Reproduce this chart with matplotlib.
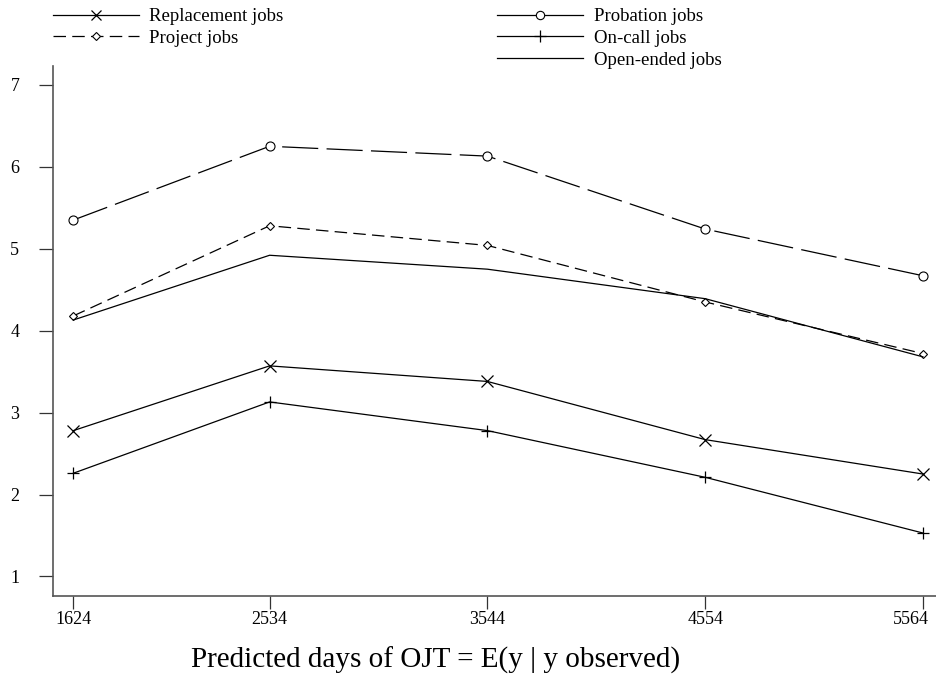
import matplotlib
matplotlib.use("Agg")
import matplotlib.pyplot as plt
import matplotlib.transforms as mtransforms
from matplotlib.lines import Line2D

plt.rcParams['font.family'] = ['Liberation Serif', 'DejaVu Serif']
plt.rcParams['lines.scale_dashes'] = False

# predicted days of OJT at the five x positions
days = [1624, 2534, 3544, 4554, 5564]

replacement = [2.78, 3.57, 3.38, 2.67, 2.25]
probation = [5.35, 6.25, 6.13, 5.24, 4.67]
project = [4.18, 5.28, 5.04, 4.35, 3.72]
on_call = [2.26, 3.13, 2.78, 2.21, 1.53]
open_ended = [4.13, 4.92, 4.75, 4.39, 3.68]

y_ticks = [1, 2, 3, 4, 5, 6, 7]

fig = plt.figure(figsize=(9.37, 6.83), dpi=100)
ax = fig.add_axes([0.0562, 0.1278, 0.9438, 0.7756])

lw = 0.9
ax.plot(days, probation, color='black', lw=lw, marker='o', ms=6.5,
        mfc='white', mec='black', mew=0.8, dashes=(26, 6))
ax.plot(days, project, color='black', lw=lw, marker='D', ms=4.5,
        mfc='white', mec='black', mew=0.8, dashes=(9, 4.5))
ax.plot(days, open_ended, color='black', lw=lw)
ax.plot(days, replacement, color='black', lw=lw, marker='x', ms=8, mew=0.9)
ax.plot(days, on_call, color='black', lw=lw, marker='+', ms=9, mew=0.9)

ax.set_xlim(1528, 5629)
ax.set_ylim(0.765, 7.23)
ax.set_xticks(days)
ax.set_xticklabels([str(d) for d in days])
ax.set_yticks(y_ticks)

for side in ['top', 'right']:
    ax.spines[side].set_visible(False)
for side in ['left', 'bottom']:
    ax.spines[side].set_color('#555555')
    ax.spines[side].set_linewidth(1.2)

ax.tick_params(axis='x', direction='out', length=9, width=0.9, pad=2,
               labelsize=13, color='#333333')
ax.tick_params(axis='y', direction='out', length=10, width=0.9, pad=14,
               labelsize=13, color='#333333')

# last x label sits a bit left of its tick so it stays inside the frame
last = ax.get_xticklabels()[-1]
last.set_transform(last.get_transform() +
                   mtransforms.ScaledTranslation(-12 / 100, 0, fig.dpi_scale_trans))

fig.text(436 / 937, 1 - 660 / 683, 'Predicted days of OJT = E(y | y observed)',
         ha='center', va='center', fontsize=21)

# legend: probation drawn solid in the key, as in the original
h_repl = Line2D([], [], color='black', lw=lw, marker='x', ms=7, mew=0.9)
h_proj = Line2D([], [], color='black', lw=lw, marker='D', ms=4, mfc='white',
                mew=0.8, dashes=(9, 4.5))
h_prob = Line2D([], [], color='black', lw=lw, marker='o', ms=6, mfc='white',
                mew=0.8)
h_oncall = Line2D([], [], color='black', lw=lw, marker='+', ms=8, mew=0.9)
h_open = Line2D([], [], color='black', lw=lw)

leg_kw = dict(frameon=False, fontsize=13.5, handlelength=4.6,
              handletextpad=0.55, labelspacing=0.25, borderpad=0,
              borderaxespad=0, loc='upper left')
leg1 = fig.legend([h_repl, h_proj], ['Replacement jobs', 'Project jobs'],
                  bbox_to_anchor=(52.6 / 937, 1 - 8 / 683), **leg_kw)
leg2 = fig.legend([h_prob, h_oncall, h_open],
                  ['Probation jobs', 'On-call jobs', 'Open-ended jobs'],
                  bbox_to_anchor=(497 / 937, 1 - 8 / 683), **leg_kw)

fig.savefig('out.png', dpi=100)
